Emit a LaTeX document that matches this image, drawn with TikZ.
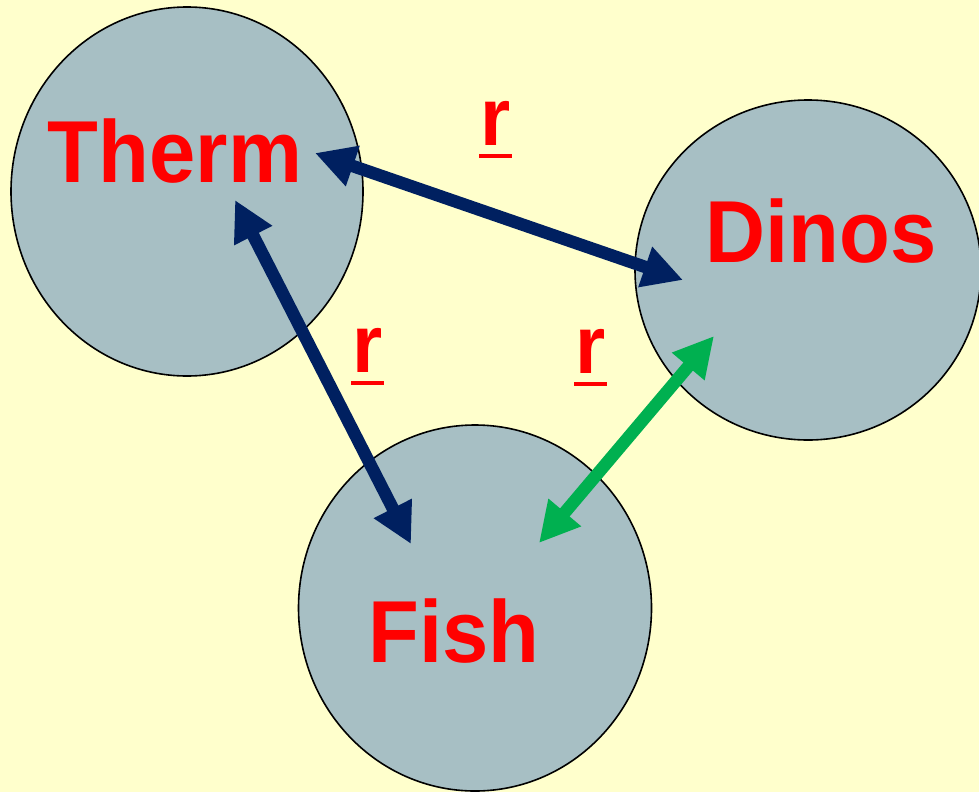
\documentclass[tikz,border=0pt]{standalone}
\usepackage{fontspec}
\newfontfamily\lblfont[FakeStretch=0.945]{Liberation Sans Bold}
\usetikzlibrary{arrows.meta,shapes.geometric}
\definecolor{bg}{HTML}{FFFFCC}
\definecolor{cfill}{HTML}{A7BFC4}
\definecolor{navy}{HTML}{002060}
\definecolor{grn}{HTML}{00B050}
\definecolor{lred}{HTML}{FF0000}
\tikzset{
  blob/.style={ellipse, draw=black, line width=1.6pt, fill=cfill, inner sep=0pt},
  namelbl/.style={anchor=base, text=lred, inner sep=0pt, font=\lblfont\fontsize{88}{96}\selectfont},
  rlbl/.style={anchor=base, text=lred, inner sep=0pt, font=\lblfont\fontsize{82}{90}\selectfont},
  ul/.style={draw=lred, line width=4pt},
  link/.style={line width=12.5pt, {Triangle[length=40pt,width=40pt]}-{Triangle[length=40pt,width=40pt]}},
}
\begin{document}
\begin{tikzpicture}[x=1pt,y=-1pt]
\fill[bg] (0,0) rectangle (979,792);
\useasboundingbox (0,0) rectangle (979,792);
% circles
\node[blob, minimum width=352pt, minimum height=369pt] (therm) at (187,191.5) {};
\node[blob, minimum width=346pt, minimum height=340pt] (dinos) at (808,270) {};
\node[blob, minimum width=353pt, minimum height=366pt] (fish) at (475,608) {};
% names
\node[namelbl] (thermT) at (175,182) {Therm};
\node[namelbl] (dinosT) at (821,262) {Dinos};
\node[namelbl] (fishT) at (454,662) {Fish};
% arrow end points
\coordinate (tA) at (315,153);
\coordinate (dA) at (683,280);
\coordinate (tB) at (235,200);
\coordinate (fB) at (411,544);
\coordinate (dC) at (714,336);
\coordinate (fC) at (539,543);
\draw[link, navy] (tA) -- (dA);
\draw[link, navy] (tB) -- (fB);
\draw[link, grn] (dC) -- (fC);
% r labels
\node[rlbl] (r1) at (496,145) {r};
\node[rlbl] (r2) at (368,372) {r};
\node[rlbl] (r3) at (591,373) {r};
\foreach \r in {r1,r2,r3}
  \draw[ul] ([xshift=-17pt,yshift=-11pt]\r.base) -- ([xshift=16pt,yshift=-11pt]\r.base);
\end{tikzpicture}
\end{document}
